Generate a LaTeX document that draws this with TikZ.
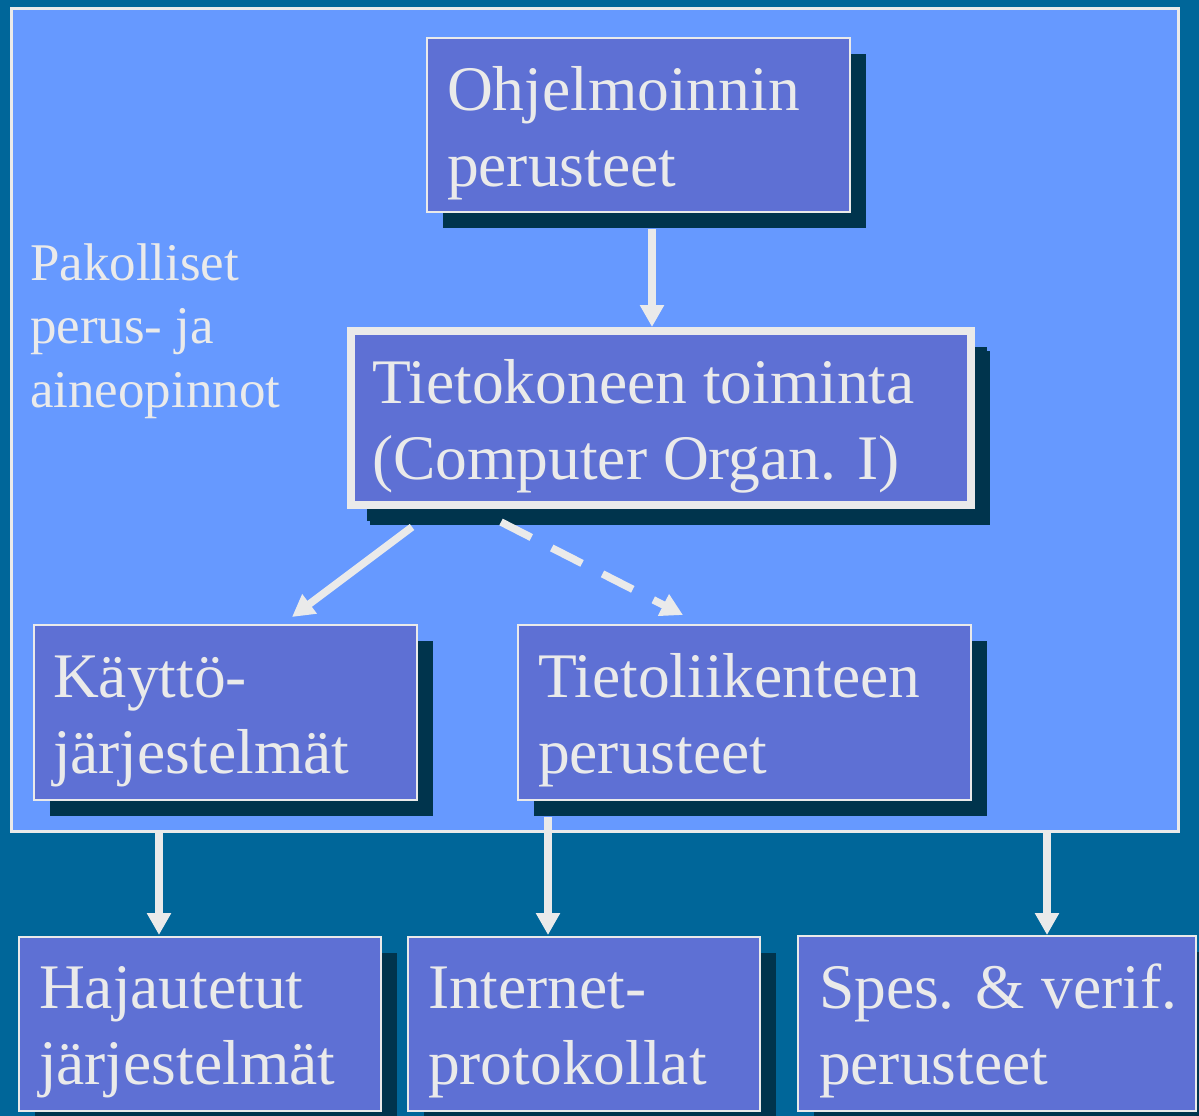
\documentclass[tikz,border=0pt]{standalone}
\usepackage{fontspec}
\setmainfont{Liberation Serif}
\usetikzlibrary{arrows.meta,shadows,calc}
\definecolor{bgc}{HTML}{006699}
\definecolor{regc}{HTML}{6699FF}
\definecolor{boxc}{HTML}{5E70D4}
\definecolor{shadowc}{HTML}{00344D}
\definecolor{linec}{HTML}{EAEAEA}
\tikzset{
  boxnode/.style={draw=linec, fill=boxc, line width=2.5pt, rectangle, inner sep=0pt, outer sep=0pt,
    anchor=north west, drop shadow={shadow xshift=16pt, shadow yshift=-16pt, fill=shadowc, opacity=1}},
  boxtext/.style={anchor=base west, inner sep=0pt, outer sep=0pt, text=linec, align=left,
    font=\fontsize{63.5pt}{76pt}\selectfont},
  sidetext/.style={anchor=base west, inner sep=0pt, outer sep=0pt, text=linec, align=left,
    font=\fontsize{53pt}{63.5pt}\selectfont},
  arr/.style={draw=linec, line width=7.5pt, -{Triangle[width=23pt,length=22pt]}},
  dasharr/.style={arr, dash pattern=on 34pt off 23pt}
}
\begin{document}
\begin{tikzpicture}[x=1pt,y=-1pt]
\clip (0,0) rectangle (1199,1116);
\fill[bgc] (0,0) rectangle (1199,1116);
\node[draw=linec, fill=regc, line width=3pt, rectangle, inner sep=0pt, outer sep=0pt, anchor=north west,
  minimum width=1167pt, minimum height=822pt] (region) at (11,9) {};
\node[sidetext] (side) at (30,407) {Pakolliset\\perus- ja\\aineopinnot};
% boxes
\node[boxnode, minimum width=423pt, minimum height=174pt] (b1) at (427,38) {};
\node[boxnode, line width=8pt, minimum width=620pt, minimum height=174pt,
  drop shadow={shadow xshift=19pt, shadow yshift=-20pt, fill=shadowc, opacity=1}] (b2) at (351,331) {};
\node[boxnode, minimum width=383pt, minimum height=175pt] (b3) at (34,625) {};
\node[boxnode, minimum width=453pt, minimum height=175pt] (b4) at (518,625) {};
\node[boxnode, minimum width=362pt, minimum height=174pt] (b5) at (19,937) {};
\node[boxnode, minimum width=352pt, minimum height=174pt] (b6) at (408,937) {};
\node[boxnode, minimum width=398pt, minimum height=175pt] (b7) at (798,936) {};
% texts (anchor is the baseline of the last line)
\node[boxtext] (t1) at (447,186) {Ohjelmoinnin\\perusteet};
\node[boxtext] (t2) at (372,479) {Tietokoneen toiminta\\(Computer Organ. I)};
\node[boxtext] (t3) at (53,773) {Käyttö-\\järjestelmät};
\node[boxtext] (t4) at (538,773) {Tietoliikenteen\\perusteet};
\node[boxtext] (t5) at (39,1084) {Hajautetut\\järjestelmät};
\node[boxtext] (t6) at (428,1084) {Internet-\\protokollat};
\node[boxtext] (t7) at (819,1084) {Spes. \& verif.\\perusteet};
% connectors
\draw[arr] ($(b1.south west)+(225,17)$) -- ($(b2.north west)+(301,-4)$);
\draw[arr] ($(b2.south west)+(61,22)$) -- ($(b3.north west)+(258,-8)$);
\draw[dasharr] ($(b2.south west)+(150,17)$) -- ($(b4.north west)+(165,-10)$);
\draw[arr] ($(region.south west)+(148,0)$) -- ($(b5.north west)+(140,-2)$);
\draw[arr] ($(b4.south west)+(30,17)$) -- ($(b6.north west)+(140,-2)$);
\draw[arr] ($(region.south east)+(-131,0)$) -- ($(b7.north west)+(249,-1)$);
\end{tikzpicture}
\end{document}
